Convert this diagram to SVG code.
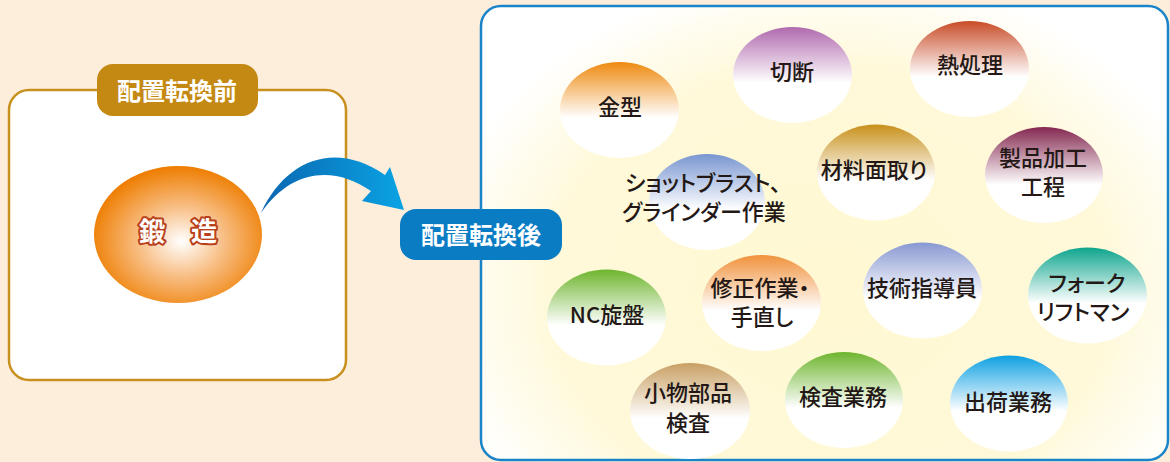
<svg xmlns="http://www.w3.org/2000/svg" width="1170" height="462" viewBox="0 0 1170 462">
<style>
.t{font-family:"Noto Sans CJK JP","Noto Sans",sans-serif;font-size:22px;font-weight:500;fill:#231815;text-anchor:middle;font-feature-settings:"palt"}
.lb{font-family:"Noto Sans CJK JP","Noto Sans",sans-serif;font-size:24px;font-weight:bold;fill:#ffffff;text-anchor:middle}
.fg{font-family:"Noto Sans CJK JP","Noto Sans",sans-serif;font-size:26px;font-weight:bold;fill:#ffffff;stroke:#B8401A;stroke-width:4;stroke-linejoin:round;paint-order:stroke;text-anchor:middle}
</style>
<defs>
<radialGradient id="gOr" cx="0.52" cy="0.55" r="0.55">
<stop offset="0" stop-color="#FFFFFF"/>
<stop offset="0.45" stop-color="#F8C088"/>
<stop offset="1" stop-color="#EE7D00"/>
</radialGradient>
<radialGradient id="gBg" gradientUnits="userSpaceOnUse" cx="0" cy="0" r="400" gradientTransform="translate(830 290) scale(1 0.8)">
<stop offset="0" stop-color="#FFF8D2"/>
<stop offset="0.7" stop-color="#FFF9DA"/>
<stop offset="1" stop-color="#FFFFFF"/>
</radialGradient>
<linearGradient id="gAr" x1="0" y1="0" x2="1" y2="0">
<stop offset="0" stop-color="#0B66B0"/>
<stop offset="1" stop-color="#0AA3E4"/>
</linearGradient>
<linearGradient id="c1" x1="0" y1="0" x2="0" y2="1"><stop offset="0" stop-color="#EE8A10"/><stop offset="0.58" stop-color="#FFFFFF"/></linearGradient>
<linearGradient id="c2" x1="0" y1="0" x2="0" y2="1"><stop offset="0" stop-color="#B06AAE"/><stop offset="0.58" stop-color="#FFFFFF"/></linearGradient>
<linearGradient id="c3" x1="0" y1="0" x2="0" y2="1"><stop offset="0" stop-color="#C84C28"/><stop offset="0.58" stop-color="#FFFFFF"/></linearGradient>
<linearGradient id="c4" x1="0" y1="0" x2="0" y2="1"><stop offset="0" stop-color="#C8901A"/><stop offset="0.58" stop-color="#FFFFFF"/></linearGradient>
<linearGradient id="c5" x1="0" y1="0" x2="0" y2="1"><stop offset="0" stop-color="#842850"/><stop offset="0.6" stop-color="#FFFFFF"/></linearGradient>
<linearGradient id="c6" x1="0" y1="0" x2="0" y2="1"><stop offset="0" stop-color="#7896D0"/><stop offset="0.58" stop-color="#FFFFFF"/></linearGradient>
<linearGradient id="c7" x1="0" y1="0" x2="0" y2="1"><stop offset="0" stop-color="#6EB52E"/><stop offset="0.58" stop-color="#FFFFFF"/></linearGradient>
<linearGradient id="c8" x1="0" y1="0" x2="0" y2="1"><stop offset="0" stop-color="#F0923C"/><stop offset="0.58" stop-color="#FFFFFF"/></linearGradient>
<linearGradient id="c9" x1="0" y1="0" x2="0" y2="1"><stop offset="0" stop-color="#8898D2"/><stop offset="0.58" stop-color="#FFFFFF"/></linearGradient>
<linearGradient id="c10" x1="0" y1="0" x2="0" y2="1"><stop offset="0" stop-color="#0EA58E"/><stop offset="0.58" stop-color="#FFFFFF"/></linearGradient>
<linearGradient id="c11" x1="0" y1="0" x2="0" y2="1"><stop offset="0" stop-color="#C8A064"/><stop offset="0.58" stop-color="#FFFFFF"/></linearGradient>
<linearGradient id="c12" x1="0" y1="0" x2="0" y2="1"><stop offset="0" stop-color="#0EA0E2"/><stop offset="0.58" stop-color="#FFFFFF"/></linearGradient>
</defs>
<rect x="0" y="0" width="1170" height="462" fill="#FDEEDC"/>

<g id="before-panel">
<rect x="9" y="90" width="337" height="290" rx="20" fill="#FFFFFF" stroke="#C8901E" stroke-width="2.5"/>
</g>
<g id="before-label">
<rect x="97" y="64" width="161" height="52" rx="16" fill="#C48912"/>
<text class="lb" x="177" y="100">配置転換前</text>
</g>
<g id="forging">
<ellipse cx="178" cy="234.5" rx="84" ry="68.5" fill="url(#gOr)"/>
<text class="fg" x="178" y="241">鍛　造</text>
</g>

<g id="after-panel">
<rect x="481" y="6" width="687" height="454" rx="20" fill="url(#gBg)" stroke="#1A84C8" stroke-width="2.5"/>
</g>

<g id="connectors">
<path d="M261,213 C285,160 335,140 385,175 L390,167 L404,210 L362,201 L371,191 C335,166 292,168 261,213 Z" fill="url(#gAr)"/>
</g>

<g id="after-label">
<rect x="400" y="209" width="162" height="51" rx="16" fill="#0A7CC4"/>
<text class="lb" x="481" y="244">配置転換後</text>
</g>

<g id="n-kanagata"><ellipse cx="619.5" cy="110" rx="59.5" ry="48" fill="url(#c1)"/><text class="t" x="620" y="115">金型</text></g>
<g id="n-setsudan"><ellipse cx="792.5" cy="75" rx="59.5" ry="48" fill="url(#c2)"/><text class="t" x="792" y="80">切断</text></g>
<g id="n-netsushori"><ellipse cx="969.5" cy="69" rx="59.5" ry="48" fill="url(#c3)"/><text class="t" x="970" y="73">熱処理</text></g>
<g id="n-shot"><ellipse cx="707" cy="202" rx="58" ry="48" fill="url(#c6)"/><text class="t" x="703" y="191">ショットブラスト、</text><text class="t" x="704" y="220">グラインダー作業</text></g>
<g id="n-mentori"><ellipse cx="876" cy="172.5" rx="59" ry="48" fill="url(#c4)"/><text class="t" x="874" y="178">材料面取り</text></g>
<g id="n-seihin"><ellipse cx="1044" cy="175" rx="59" ry="48" fill="url(#c5)"/><text class="t" x="1043" y="166">製品加工</text><text class="t" x="1043" y="195">工程</text></g>
<g id="n-nc"><ellipse cx="606.5" cy="317.5" rx="59.5" ry="48" fill="url(#c7)"/><text class="t" x="607" y="323">NC旋盤</text></g>
<g id="n-shusei"><ellipse cx="761.5" cy="303" rx="59.5" ry="48" fill="url(#c8)"/><text class="t" x="760" y="296">修正作業・</text><text class="t" x="762" y="325">手直し</text></g>
<g id="n-gijutsu"><ellipse cx="922.5" cy="290.5" rx="59.5" ry="48" fill="url(#c9)"/><text class="t" x="922" y="296">技術指導員</text></g>
<g id="n-fork"><ellipse cx="1087.5" cy="295.5" rx="59.5" ry="48" fill="url(#c10)"/><text class="t" x="1087" y="291">フォーク</text><text class="t" x="1083" y="320">リフトマン</text></g>
<g id="n-komono"><ellipse cx="690" cy="411" rx="60" ry="48" fill="url(#c11)"/><text class="t" x="688" y="401">小物部品</text><text class="t" x="688" y="431">検査</text></g>
<g id="n-kensa"><ellipse cx="844" cy="400" rx="59" ry="48" fill="url(#c7)"/><text class="t" x="843" y="405">検査業務</text></g>
<g id="n-shukka"><ellipse cx="1009" cy="403.5" rx="59" ry="48" fill="url(#c12)"/><text class="t" x="1008" y="410">出荷業務</text></g>
</svg>
